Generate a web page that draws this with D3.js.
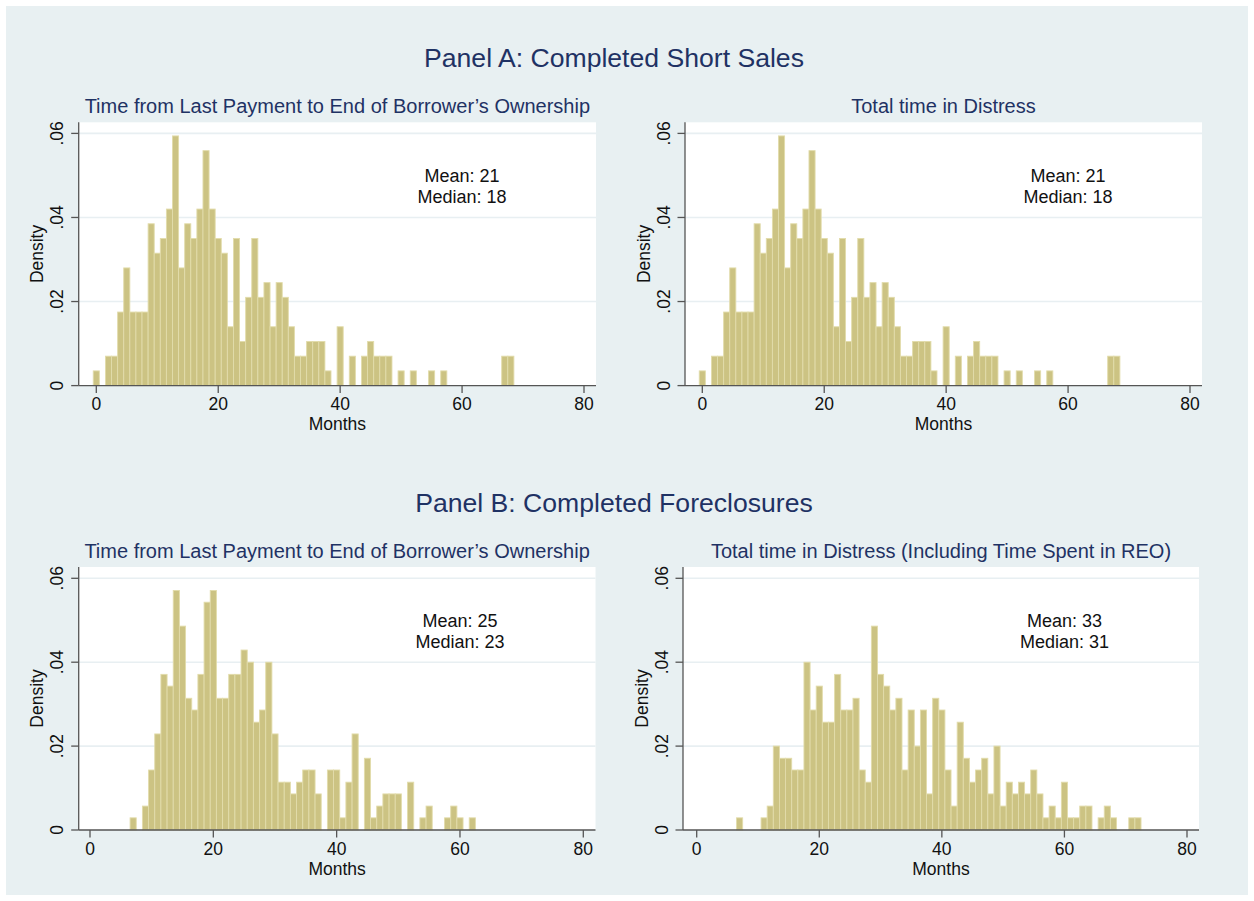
<!DOCTYPE html>
<html>
<head>
<meta charset="utf-8">
<script src="https://cdn.jsdelivr.net/npm/d3@7"></script>
<style>
  html, body { margin: 0; padding: 0; background: #ffffff; }
  svg { display: block; font-family: "Liberation Sans", Arial, Helvetica, sans-serif; }
</style>
</head>
<body>
<svg id="chart" width="1254" height="901"></svg>
<script>
// ---- Data (density per 1-month bin, bins centred on whole months) ----
const monthTicks = [0, 20, 40, 60, 80];
const densityTicks = [0, 0.02, 0.04, 0.06];
const densityTickLabels = ["0", ".02", ".04", ".06"];

// Panel A, left: Time from last payment to end of ownership (short sales), months 0..68
const shortSalesOwnership = [
  0.0035, 0, 0.0070, 0.0070, 0.0175, 0.0280, 0.0175, 0.0175, 0.0175, 0.0385,
  0.0315, 0.0350, 0.0420, 0.0594, 0.0280, 0.0385, 0.0350, 0.0420, 0.0559, 0.0420,
  0.0350, 0.0315, 0.0140, 0.0350, 0.0105, 0.0210, 0.0350, 0.0210, 0.0245, 0.0140,
  0.0245, 0.0210, 0.0140, 0.0070, 0.0070, 0.0105, 0.0105, 0.0105, 0.0035, 0,
  0.0140, 0, 0.0070, 0, 0.0070, 0.0105, 0.0070, 0.0070, 0.0070, 0,
  0.0035, 0, 0.0035, 0, 0, 0.0035, 0, 0.0035, 0, 0,
  0, 0, 0, 0, 0, 0, 0, 0.0070, 0.0070
];
// Panel A, right: Total time in distress (short sales), months 0..68
const shortSalesDistress = [
  0.0035, 0, 0.0070, 0.0070, 0.0175, 0.0280, 0.0175, 0.0175, 0.0175, 0.0385,
  0.0315, 0.0350, 0.0420, 0.0594, 0.0280, 0.0385, 0.0350, 0.0420, 0.0559, 0.0420,
  0.0350, 0.0315, 0.0140, 0.0350, 0.0105, 0.0210, 0.0350, 0.0210, 0.0245, 0.0140,
  0.0245, 0.0210, 0.0140, 0.0070, 0.0070, 0.0105, 0.0105, 0.0105, 0.0035, 0,
  0.0140, 0, 0.0070, 0, 0.0070, 0.0105, 0.0070, 0.0070, 0.0070, 0,
  0.0035, 0, 0.0035, 0, 0, 0.0035, 0, 0.0035, 0, 0,
  0, 0, 0, 0, 0, 0, 0, 0.0070, 0.0070
];
// Panel B, left: Time from last payment to end of ownership (foreclosures), months 0..62
const foreclosureOwnership = [
  0, 0, 0, 0, 0, 0, 0, 0.0029, 0, 0.0057,
  0.0143, 0.0229, 0.0371, 0.0343, 0.0571, 0.0486, 0.0314, 0.0286, 0.0371, 0.0543,
  0.0571, 0.0314, 0.0314, 0.0371, 0.0371, 0.0429, 0.0400, 0.0257, 0.0286, 0.0400,
  0.0229, 0.0114, 0.0114, 0.0086, 0.0114, 0.0143, 0.0143, 0.0086, 0, 0.0143,
  0.0143, 0.0029, 0.0114, 0.0229, 0, 0.0171, 0.0029, 0.0057, 0.0086, 0.0086,
  0.0086, 0, 0.0114, 0, 0.0029, 0.0057, 0, 0, 0.0029, 0.0057,
  0.0029, 0, 0.0029
];
// Panel B, right: Total time in distress incl. REO (foreclosures), months 0..72
const foreclosureDistress = [
  0, 0, 0, 0, 0, 0, 0, 0.0029, 0, 0,
  0, 0.0029, 0.0057, 0.0200, 0.0171, 0.0171, 0.0143, 0.0143, 0.0400, 0.0286,
  0.0343, 0.0257, 0.0257, 0.0371, 0.0286, 0.0286, 0.0314, 0.0143, 0.0114, 0.0486,
  0.0371, 0.0343, 0.0286, 0.0314, 0.0143, 0.0286, 0.0200, 0.0286, 0.0086, 0.0314,
  0.0286, 0.0143, 0.0057, 0.0257, 0.0171, 0.0114, 0.0143, 0.0171, 0.0086, 0.0200,
  0.0057, 0.0114, 0.0086, 0.0114, 0.0086, 0.0143, 0.0086, 0.0029, 0.0057, 0.0029,
  0.0114, 0.0029, 0.0029, 0.0057, 0.0057, 0, 0.0029, 0.0057, 0.0029, 0,
  0, 0.0029, 0.0029
];

const panelTitles = ["Panel A: Completed Short Sales", "Panel B: Completed Foreclosures"];
const subTitles = [
  "Time from Last Payment to End of Borrower\u2019s Ownership",
  "Total time in Distress",
  "Time from Last Payment to End of Borrower\u2019s Ownership",
  "Total time in Distress (Including Time Spent in REO)"
];
const meanLabels = ["Mean: 21", "Mean: 21", "Mean: 25", "Mean: 33"];
const medianLabels = ["Median: 18", "Median: 18", "Median: 23", "Median: 31"];
const seriesList = [shortSalesOwnership, shortSalesDistress, foreclosureOwnership, foreclosureDistress];

// ---- Layout ----
const svg = d3.select("#chart");
const TITLE_COLOR = "#1f3264";
const BAR_FILL = "#ccc383";
const BAR_STROKE = "#e2dcab";
const AXIS_COLOR = "#555555";
const GRID_COLOR = "#e8eff2";

svg.append("rect").attr("x", 6).attr("y", 6).attr("width", 1242).attr("height", 889)
  .attr("fill", "#e8f0f2");

// per-panel geometry: plot rect + pixel of month 0 and 80, pixel of density 0 and .06
const panels = [
  { left: 78.7, right: 596, top: 122.3, x0: 96.3, x80: 584, y0: 385.6, y06: 133.4, subY: 113 },
  { left: 685, right: 1202, top: 122.3, x0: 702.3, x80: 1190, y0: 385.6, y06: 133.4, subY: 113 },
  { left: 78.7, right: 595.5, top: 567, x0: 90, x80: 583.3, y0: 830, y06: 578.3, subY: 558 },
  { left: 683, right: 1199, top: 567, x0: 696.7, x80: 1187, y0: 830, y06: 578.3, subY: 558 }
];

// Main titles
svg.append("text").attr("x", 614).attr("y", 66.5).attr("text-anchor", "middle")
  .attr("font-size", 26.6).attr("fill", TITLE_COLOR).text(panelTitles[0]);
svg.append("text").attr("x", 614).attr("y", 511.5).attr("text-anchor", "middle")
  .attr("font-size", 26.6).attr("fill", TITLE_COLOR).text(panelTitles[1]);

panels.forEach((p, i) => {
  const data = seriesList[i];
  const x = d3.scaleLinear().domain([0, 80]).range([p.x0, p.x80]);
  const y = d3.scaleLinear().domain([0, 0.06]).range([p.y0, p.y06]);
  const g = svg.append("g");

  // plot region
  g.append("rect").attr("x", p.left).attr("y", p.top)
    .attr("width", p.right - p.left).attr("height", p.y0 - p.top).attr("fill", "#ffffff");

  // gridlines
  g.selectAll(".grid").data(densityTicks.filter(d => d > 0)).join("line")
    .attr("x1", p.left).attr("x2", p.right)
    .attr("y1", d => y(d)).attr("y2", d => y(d))
    .attr("stroke", GRID_COLOR).attr("stroke-width", 1.6);

  // bars
  const bins = data.map((v, k) => ({ k, v })).filter(d => d.v > 0);
  g.selectAll(".bar").data(bins).join("rect")
    .attr("x", d => x(d.k - 0.5))
    .attr("width", d => x(d.k + 0.5) - x(d.k - 0.5))
    .attr("y", d => y(d.v))
    .attr("height", d => y(0) - y(d.v))
    .attr("fill", BAR_FILL).attr("stroke", BAR_STROKE).attr("stroke-width", 0.9);

  // axes lines
  g.append("line").attr("x1", p.left).attr("x2", p.left).attr("y1", p.top).attr("y2", p.y0)
    .attr("stroke", AXIS_COLOR).attr("stroke-width", 1.3);
  g.append("line").attr("x1", p.left).attr("x2", p.right).attr("y1", p.y0).attr("y2", p.y0)
    .attr("stroke", AXIS_COLOR).attr("stroke-width", 1.3);

  // x ticks
  g.selectAll(".xt").data(monthTicks).join("line")
    .attr("x1", d => x(d)).attr("x2", d => x(d)).attr("y1", p.y0).attr("y2", p.y0 + 7.5)
    .attr("stroke", AXIS_COLOR).attr("stroke-width", 1.3);
  g.selectAll(".xl").data(monthTicks).join("text")
    .attr("x", d => x(d)).attr("y", p.y0 + 24.5).attr("text-anchor", "middle")
    .attr("font-size", 17.5).attr("fill", "#111").text(d => d);

  // y ticks
  g.selectAll(".yt").data(densityTicks).join("line")
    .attr("x1", p.left - 7.5).attr("x2", p.left).attr("y1", d => y(d)).attr("y2", d => y(d))
    .attr("stroke", AXIS_COLOR).attr("stroke-width", 1.3);
  g.selectAll(".yl").data(densityTicks).join("text")
    .attr("transform", d => `translate(${p.left - 15.5},${y(d)}) rotate(-90)`)
    .attr("text-anchor", "middle").attr("font-size", 17.5).attr("fill", "#111")
    .text((d, j) => densityTickLabels[j]);

  // axis titles
  g.append("text").attr("x", (p.left + p.right) / 2).attr("y", p.y0 + 44.5)
    .attr("text-anchor", "middle").attr("font-size", 17.5).attr("fill", "#111").text("Months");
  g.append("text")
    .attr("transform", `translate(${p.left - 35.5},${(p.top + p.y0) / 2}) rotate(-90)`)
    .attr("text-anchor", "middle").attr("font-size", 17.5).attr("fill", "#111").text("Density");

  // subtitle
  g.append("text").attr("x", (p.left + p.right) / 2).attr("y", p.subY)
    .attr("text-anchor", "middle").attr("font-size", 20).attr("fill", TITLE_COLOR)
    .text(subTitles[i]);

  // annotations
  g.append("text").attr("x", x(60)).attr("y", y(0.05) + 6.5).attr("text-anchor", "middle")
    .attr("font-size", 18).attr("fill", "#111").text(meanLabels[i]);
  g.append("text").attr("x", x(60)).attr("y", y(0.045) + 6.5).attr("text-anchor", "middle")
    .attr("font-size", 18).attr("fill", "#111").text(medianLabels[i]);
});
</script>
</body>
</html>
